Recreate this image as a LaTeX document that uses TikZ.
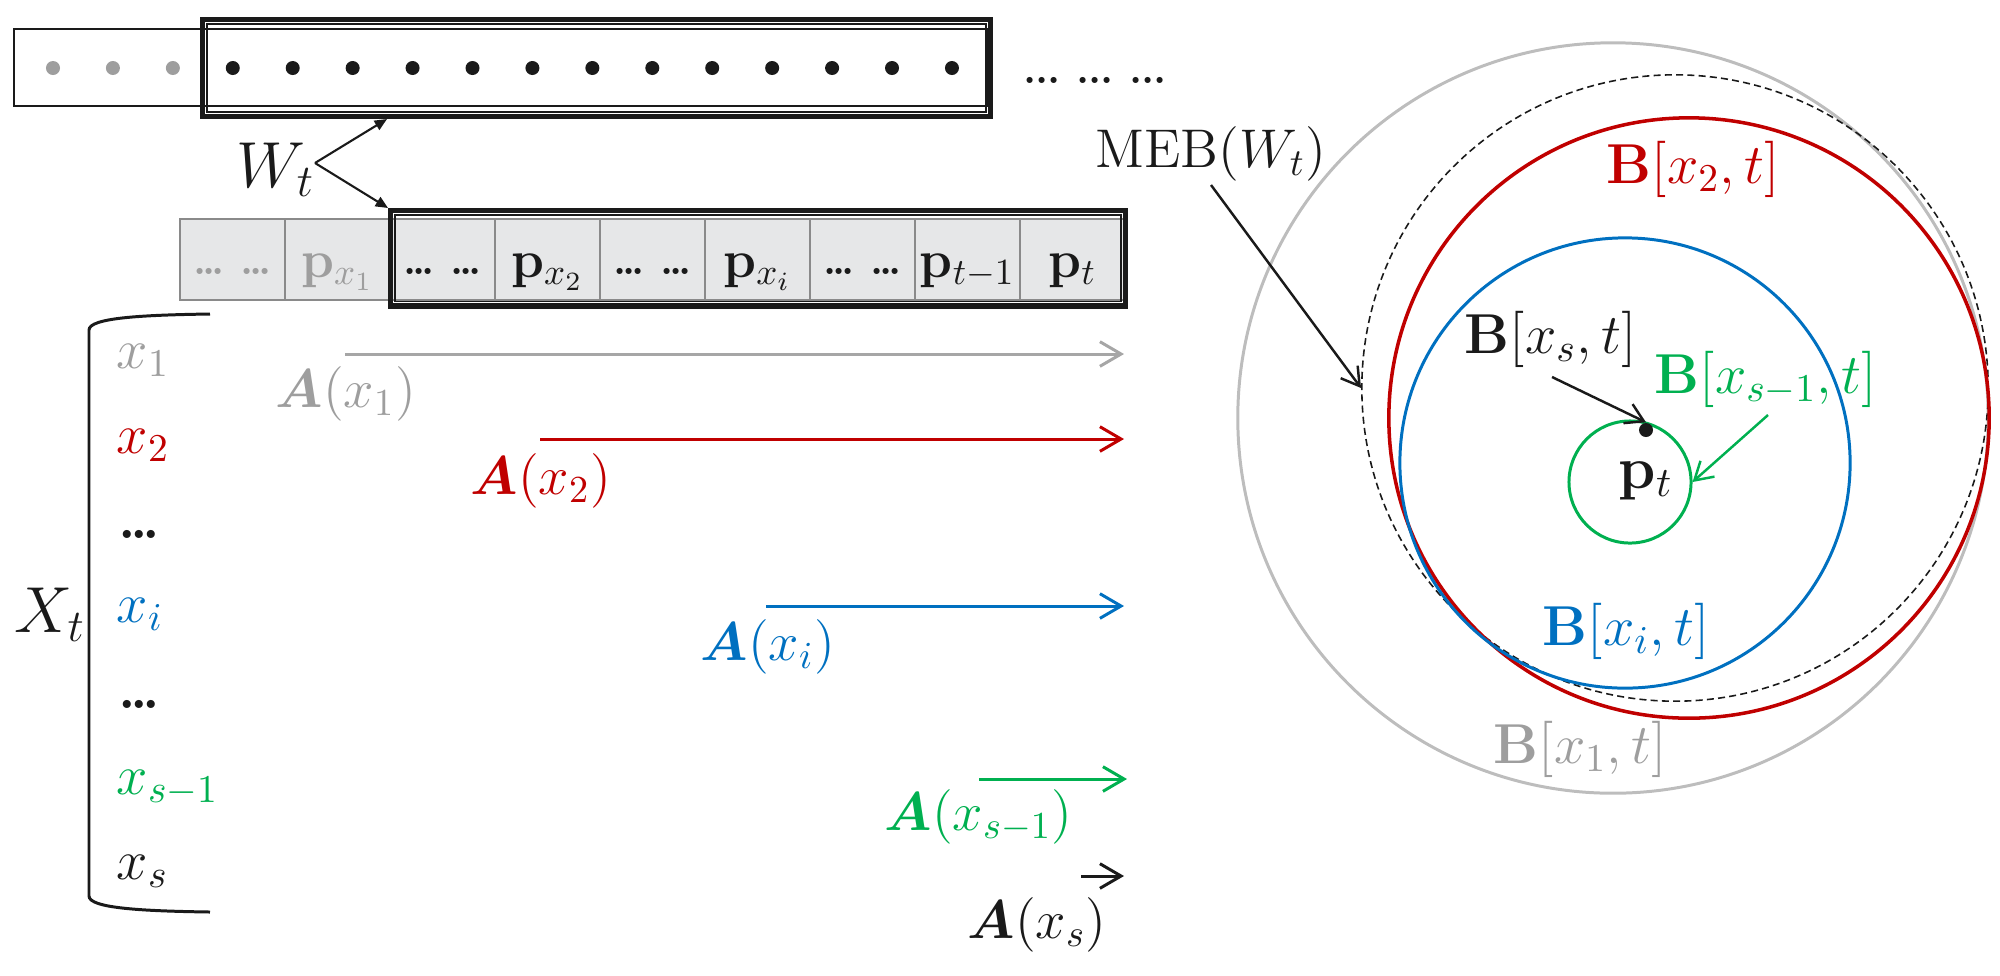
\RequirePackage{fix-cm}
\documentclass[tikz,border=0pt]{standalone}
\usepackage{amsmath,bm}
\usetikzlibrary{arrows.meta}
\definecolor{cred}{HTML}{C00000}
\definecolor{cblue}{HTML}{0070C0}
\definecolor{cgreen}{HTML}{00B050}
\definecolor{cgray}{HTML}{9E9E9E}
\definecolor{cgrayarr}{HTML}{A6A6A6}
\definecolor{cgraycirc}{HTML}{BDBDBD}
\definecolor{cellfill}{HTML}{E6E7E8}
\definecolor{cellline}{HTML}{8A8A8A}
\definecolor{inkc}{HTML}{1A1A1A}
\newcommand\ddd[1][-.1em]{.\kern#1.\kern#1.}
\begin{document}
\begin{tikzpicture}[x=0.01cm,y=-0.01cm,
  lbl/.style={inner sep=0pt, anchor=base west},
  fbig/.style={font=\fontsize{18.5}{20}\selectfont},
  fmid/.style={font=\fontsize{16}{18}\selectfont},
  flab/.style={font=\fontsize{15.5}{18}\selectfont},
  fcell/.style={font=\fontsize{15}{17}\selectfont},
  arr/.style={line width=0.85pt, -{Straight Barb[length=6pt,width=7pt]}},
  tarr/.style={line width=0.7pt, -{Straight Barb[length=5pt,width=6pt]}},
  warr/.style={line width=0.6pt, -{Triangle[length=3.5pt,width=3pt]}},
  circ/.style={draw, circle, inner sep=0pt, line width=0.85pt},
  cellbox/.style={fill=cellfill, draw=cellline, line width=0.5pt},
  framebox/.style={draw=inkc, line width=1.6pt},
]
\useasboundingbox (0,0) rectangle (2000,975);

% ---- top strip ----
\draw[inkc, line width=0.6pt] (14,29) rectangle (988,106);
\draw[framebox] (202.5,19.5) rectangle (990.5,116.5);
\draw[inkc, line width=0.35pt] (207,24) rectangle (986,112);
\foreach \i in {0,1,2} \fill[cgray] (53+59.93*\i,68) circle[radius=0.07cm];
\foreach \i in {3,...,15} \fill[inkc] (53+59.93*\i,68) circle[radius=0.07cm];
\node[lbl, font=\fontsize{12}{14}\selectfont\bfseries, text=inkc] (more) at (1023,83) {\ddd[-.03em]\ \ddd[-.03em]\ \ddd[-.03em]};

% ---- W_t ----
\node[lbl,fbig,text=inkc] (W) at (236,187) {$W_t$};
\coordinate (wfork) at (315,163);
\coordinate (wtop) at (387,119);
\coordinate (wbot) at (388,208);
\draw[warr, inkc] (wfork) -- (wtop);
\draw[warr, inkc] (wfork) -- (wbot);

% ---- table ----
\foreach \i in {0,...,8} \draw[cellbox] (180+105*\i,219) rectangle (285+105*\i,300);
\node[anchor=base, inner sep=0pt, font=\fontsize{12}{14}\selectfont\bfseries, text=cgray] (t1) at (232.5,274) {\ddd\ \ddd};
\node[anchor=base, inner sep=0pt, fcell, text=cgray] (t2) at (337.5,277) {$\mathbf{p}_{x_1}$};
\node[anchor=base, inner sep=0pt, font=\fontsize{12}{14}\selectfont\bfseries, text=inkc] (t3) at (442.5,274) {\ddd\ \ddd};
\node[anchor=base, inner sep=0pt, fcell, text=inkc] (t4) at (547.5,277) {$\mathbf{p}_{x_2}$};
\node[anchor=base, inner sep=0pt, font=\fontsize{12}{14}\selectfont\bfseries, text=inkc] (t5) at (652.5,274) {\ddd\ \ddd};
\node[anchor=base, inner sep=0pt, fcell, text=inkc] (t6) at (757.5,277) {$\mathbf{p}_{x_i}$};
\node[anchor=base, inner sep=0pt, font=\fontsize{12}{14}\selectfont\bfseries, text=inkc] (t7) at (862.5,274) {\ddd\ \ddd};
\node[anchor=base, inner sep=0pt, fcell, text=inkc] (t8) at (967.5,277) {$\mathbf{p}_{t-1}$};
\node[anchor=base, inner sep=0pt, fcell, text=inkc] (t9) at (1072.5,277) {$\mathbf{p}_{t}$};
\draw[framebox] (390.5,210.5) rectangle (1125.5,306);
\draw[inkc, line width=0.35pt] (395,215) rectangle (1121,301.5);

% ---- bracket and X_t ----
\draw[inkc, line width=0.85pt] (210,314) .. controls (140,315) and (89,318) .. (89,330) -- (89,896) .. controls (89,908) and (140,911) .. (210,912);
\node[lbl,fbig,text=inkc] (X) at (14,632) {$X_t$};

\node[lbl,fmid,text=cgray] (x1) at (116,368) {$x_1$};
\node[lbl,fmid,text=cred] (x2) at (116,453) {$x_2$};
\node[lbl,fmid,text=inkc] (d1) at (118,538) {\bfseries\ddd};
\node[lbl,fmid,text=cblue] (xi) at (116,622) {$x_i$};
\node[lbl,fmid,text=inkc] (d2) at (118,708) {\bfseries\ddd};
\node[lbl,fmid,text=cgreen] (xs1) at (116,794) {$x_{s-1}$};
\node[lbl,fmid,text=inkc] (xs) at (116,879) {$x_s$};

% ---- A arrows ----
\coordinate (a1s) at (345,354); \coordinate (a1e) at (1124,354);
\coordinate (a2s) at (540,439); \coordinate (a2e) at (1124,439);
\coordinate (a3s) at (766,606); \coordinate (a3e) at (1124,606);
\coordinate (a4s) at (979,779); \coordinate (a4e) at (1127,779);
\coordinate (a5s) at (1081,876); \coordinate (a5e) at (1124,876);
\draw[arr, cgrayarr] (a1s) -- (a1e);
\draw[arr, cred] (a2s) -- (a2e);
\draw[arr, cblue] (a3s) -- (a3e);
\draw[arr, cgreen] (a4s) -- (a4e);
\draw[arr, inkc] (a5s) -- (a5e);
\node[lbl,flab,text=cgray] (A1) at (275,407) {$\bm{A}(x_1)$};
\node[lbl,flab,text=cred] (A2) at (470,494) {$\bm{A}(x_2)$};
\node[lbl,flab,text=cblue] (A3) at (700,660) {$\bm{A}(x_i)$};
\node[lbl,flab,text=cgreen] (A4) at (884,830) {$\bm{A}(x_{s-1})$};
\node[lbl,flab,text=inkc] (A5) at (967,938) {$\bm{A}(x_s)$};

% ---- circles ----
\node[circ, draw=cgraycirc, minimum size=7.5cm] (cg) at (1613,418) {};
\node[circ, draw=inkc, line width=0.45pt, dash pattern=on 2pt off 1.2pt, minimum size=6.26cm] (meb) at (1675,388) {};
\node[circ, draw=cred, line width=1pt, minimum size=6.0cm] (cr) at (1689,418) {};
\node[circ, draw=cblue, minimum size=4.5cm] (cb) at (1625,463) {};
\node[circ, draw=cgreen, minimum size=1.22cm] (cgr) at (1630,482) {};
\node[circle, fill=inkc, inner sep=0pt, minimum size=0.14cm] (dot) at (1646,430) {};
\node[lbl, font=\fontsize{17}{19}\selectfont, text=inkc] (pt) at (1618,488) {$\mathbf{p}_t$};

% ---- circle labels ----
\node[lbl,flab,text=inkc] (mebl) at (1095,167) {$\mathrm{MEB}(W_t)$};
\coordinate (mebs) at (1211,185);
\draw[tarr, inkc] (mebs) -- (meb.west);
\node[lbl,fmid,text=cred] (Bx2) at (1606,183) {$\mathbf{B}[x_2,t]$};
\node[lbl,fmid,text=inkc] (Bxs) at (1464,353) {$\mathbf{B}[x_s,t]$};
\coordinate (bxss) at (1552,377);
\draw[tarr, inkc] (bxss) -- (dot.north);
\node[lbl,fmid,text=cgreen] (Bxs1) at (1654,393) {$\mathbf{B}[x_{s-1},t]$};
\coordinate (bxs1s) at (1768,415);
\draw[tarr, cgreen] (bxs1s) -- (cgr.east);
\node[lbl,fmid,text=cblue] (Bxi) at (1542,645) {$\mathbf{B}[x_i,t]$};
\node[lbl,fmid,text=cgray] (Bx1) at (1493,763) {$\mathbf{B}[x_1,t]$};
\end{tikzpicture}
\end{document}
